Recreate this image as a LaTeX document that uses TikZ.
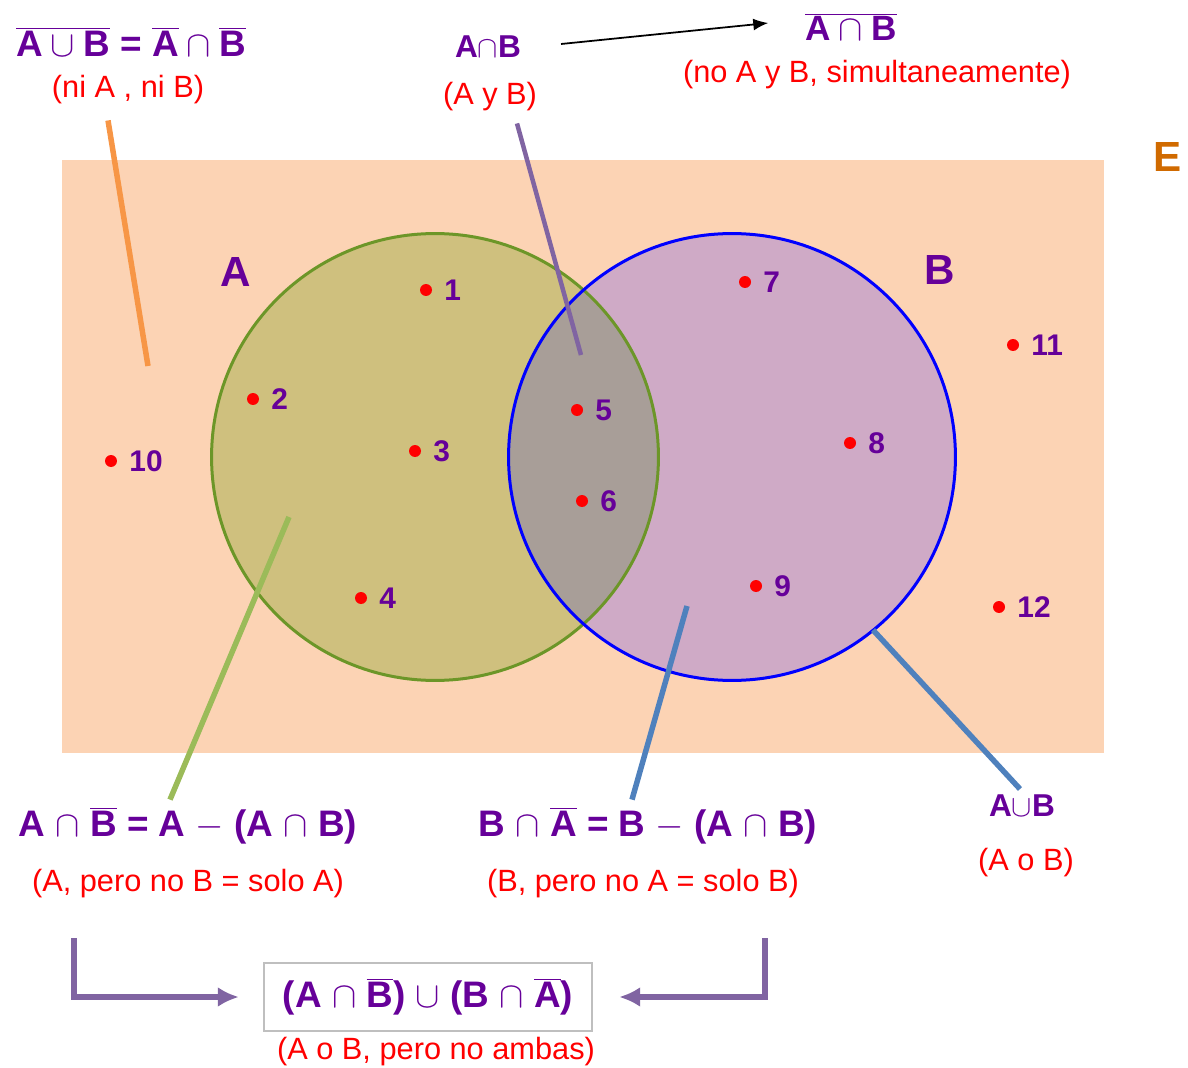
\documentclass[tikz,border=0pt]{standalone}
\usepackage{fontspec}
\setmainfont{Liberation Sans}
\usetikzlibrary{positioning,arrows.meta}

\definecolor{fondo}{RGB}{252,211,180}
\definecolor{rellA}{RGB}{207,192,126}
\definecolor{rellB}{RGB}{207,170,198}
\definecolor{rellAB}{RGB}{168,158,152}
\definecolor{bordeA}{RGB}{108,150,40}
\definecolor{morado}{RGB}{102,0,153}
\definecolor{naranjaE}{RGB}{208,106,0}
\definecolor{lnaranja}{RGB}{247,150,70}
\definecolor{lmorado}{RGB}{128,100,162}
\definecolor{lverde}{RGB}{155,187,89}
\definecolor{lazul}{RGB}{79,129,189}

\begin{document}
\begin{tikzpicture}[x=0.02cm, y=-0.02cm,
  formula/.style={text=morado, font=\fontsize{21}{25}\selectfont\bfseries, inner sep=1pt},
  corta/.style={text=morado, font=\fontsize{18}{22}\selectfont\bfseries, inner sep=1pt},
  nota/.style={text=red, font=\fontsize{17.5}{21}\selectfont, inner sep=1pt},
  numero/.style={text=morado, font=\fontsize{17}{20}\selectfont\bfseries, inner sep=1pt},
  conj/.style={text=morado, font=\fontsize{24}{28}\selectfont\bfseries, inner sep=1pt},
  punto/.style={circle, fill=red, minimum size=0.24cm, inner sep=0pt},
  guia/.style={line width=0.11cm}]
  \useasboundingbox (0,0) rectangle (1188,1068);
  \def\R{4.47cm}  % radio de los conjuntos

  % ---- universo E ----
  \fill[fondo] (62,160) rectangle (1104,753);
  \node[conj, text=naranjaE] (E) at (1168,157) {E};

  % ---- conjuntos A y B ----
  \coordinate (cA) at (435,457);
  \coordinate (cB) at (732,457);
  \fill[rellA] (cA) circle (\R);
  \fill[rellB] (cB) circle (\R);
  \begin{scope}
    \clip (cA) circle (\R);
    \fill[rellAB] (cB) circle (\R);
  \end{scope}
  \draw[bordeA, line width=0.06cm] (cA) circle (\R);
  \draw[blue, line width=0.06cm] (cB) circle (\R);
  \node[conj] (A) at (236,272) {A};
  \node[conj] (B) at (940,270) {B};

  % ---- elementos ----
  \foreach \n/\x/\y in {1/426/290, 2/253/399, 3/415/451, 4/361/598,
                        5/577/410, 6/582/501, 7/745/282, 8/850/443,
                        9/756/586, 10/111/461, 11/1013/345, 12/999/607} {
    \node[punto] (p\n) at (\x,\y) {};
    \node[numero, right=0.2cm of p\n] (e\n) {\n};
  }

  % ---- rotulos de arriba ----
  \node[formula] (f1) at (131,42)
    {$\overline{\mbox{A}\cup\mbox{B}}$ = $\overline{\mbox{A}}\cap\overline{\mbox{B}}$};
  \node[nota] (t1) at (128,90) {(ni A , ni B)};
  \node[corta] (f2) at (488,47) {A$\cap$B};
  \node[nota] (t2) at (490,97) {(A y B)};
  \node[formula, font=\fontsize{20}{24}\selectfont\bfseries] (f6) at (851,27)
    {$\overline{\mbox{A}\cap\mbox{B}}$};
  \node[nota] (t6) at (877,75) {(no A y B, simultaneamente)};

  % ---- rotulos de abajo ----
  \node[formula] (f3) at (188,826)
    {A $\cap$ $\overline{\mbox{B}}$ = A $-$ (A $\cap$ B)};
  \node[nota] (t3) at (188,884) {(A, pero no B = solo A)};
  \node[formula] (f4) at (648,826)
    {B $\cap$ $\overline{\mbox{A}}$ = B $-$ (A $\cap$ B)};
  \node[nota] (t4) at (643,884) {(B, pero no A = solo B)};
  \node[corta] (f5) at (1022,806) {A$\cup$B};
  \node[nota] (t5) at (1026,863) {(A o B)};
  \node[formula, draw=gray!50, line width=0.05cm,
        minimum width=6.56cm, minimum height=1.36cm] (caja) at (428,997)
    {(A $\cap$ $\overline{\mbox{B}}$) $\cup$ (B $\cap$ $\overline{\mbox{A}}$)};
  \node[nota] (t7) at (436,1052) {(A o B, pero no ambas)};

  % ---- lineas guia ----
  \coordinate (l10) at (148,366);
  \coordinate (l5) at (581,355);
  \coordinate (lA) at (289,517);
  \coordinate (lB) at (687,606);
  \coordinate (lAB) at (873,630);
  \draw[guia, lnaranja] ([shift={(-20,14)}]t1.south) -- (l10);
  \draw[guia, lmorado, line width=0.09cm] ([shift={(27,10)}]t2.south) -- (l5);
  \draw[guia, lverde] ([shift={(-18,-6)}]f3.north) -- (lA);
  \draw[guia, lazul] ([shift={(-16,-6)}]f4.north) -- (lB);
  \draw[guia, lazul] ([shift={(-2,-4)}]f5.north) -- (lAB);
  \draw[-{Latex[length=0.3cm,width=0.24cm]}, line width=0.035cm]
    ([shift={(38,-3)}]f2.east) -- ([shift={(-35,-4)}]f6.west);

  % ---- flechas hacia la diferencia simetrica ----
  \draw[lmorado, line width=0.11cm, -{Latex[length=0.42cm,width=0.4cm]},
        shorten >=0.48cm] ([shift={(44,38)}]t3.south west) |- (caja.west);
  \draw[lmorado, line width=0.11cm, -{Latex[length=0.42cm,width=0.4cm]},
        shorten >=0.52cm] ([shift={(-36,38)}]t4.south east) |- (caja.east);
\end{tikzpicture}
\end{document}
